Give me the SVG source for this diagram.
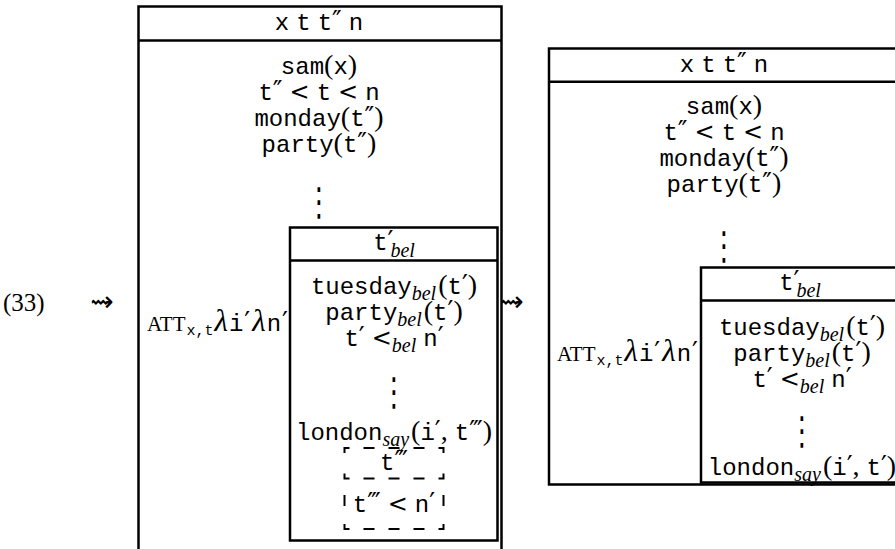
<svg xmlns="http://www.w3.org/2000/svg" width="895" height="549" viewBox="0 0 895 549">
<style>
text{fill:#000}
.r{font-family:"Liberation Serif",serif;font-size:28px}
.n{font-family:"Liberation Serif",serif;font-size:25px}
.t{font-family:"Liberation Mono",monospace;font-size:24px}
.s{font-family:"Liberation Serif",serif;font-style:italic;font-size:20px}
.p{font-family:"DejaVu Sans",sans-serif;font-size:26px}
.lt{font-family:"DejaVu Sans",sans-serif;font-size:24px}
.li{font-family:"Liberation Serif",serif;font-style:italic;font-size:31px}
.sc{font-family:"Liberation Serif",serif;font-size:21px}
.ts{font-family:"Liberation Mono",monospace;font-size:15px}
.dots{font-family:"DejaVu Sans",sans-serif;font-size:26px}
.arrow{font-family:"DejaVu Sans",sans-serif;font-size:28px}
.box{fill:none;stroke:#000;stroke-width:2.5}
.dash{fill:none;stroke:#000;stroke-width:2}
</style>
<rect width="895" height="549" fill="#fff"/>
<g id="example-number"><text class="n" x="3" y="311">(33)</text></g>
<g id="connectors">
<text class="arrow" x="102" y="311" text-anchor="middle">⇝</text>
<text class="arrow" x="512" y="311" text-anchor="middle">⇝</text>
</g>
<g id="drs-left">
<path class="box" d="M138.5,549 V6.5 H501.5 V549 M138.5,40.5 H501.5"/>
<text class="r" x="319" y="30" text-anchor="middle"><tspan class="t">x</tspan> <tspan class="t">t</tspan> <tspan class="t">t</tspan><tspan class="p">″</tspan> <tspan class="t">n</tspan></text>
<text class="r" x="319" y="74" text-anchor="middle"><tspan class="t">sam</tspan>(<tspan class="t">x</tspan>)</text>
<text class="r" x="319" y="100" text-anchor="middle"><tspan class="t">t</tspan><tspan class="p">″</tspan> <tspan class="lt">&lt;</tspan> <tspan class="t">t</tspan> <tspan class="lt">&lt;</tspan> <tspan class="t">n</tspan></text>
<text class="r" x="319" y="126" text-anchor="middle"><tspan class="t">monday</tspan>(<tspan class="t">t</tspan><tspan class="p">″</tspan>)</text>
<text class="r" x="319" y="152" text-anchor="middle"><tspan class="t">party</tspan>(<tspan class="t">t</tspan><tspan class="p">″</tspan>)</text>
<text class="dots" transform="translate(319,215) scale(1,1.5)" text-anchor="middle">⋮</text>
<text class="r" x="288" y="331" text-anchor="end"><tspan class="sc">ATT</tspan><tspan class="ts" dx="1" dy="4">x,t</tspan><tspan class="li" dx="1" dy="-4">λ</tspan><tspan class="t" dx="1">i</tspan><tspan class="p" dx="1">′</tspan><tspan class="li" dx="2">λ</tspan><tspan class="t" dx="1">n</tspan><tspan class="p" dx="1">′</tspan></text>
</g>
<g id="drs-left-inner">
<path class="box" d="M290,227.5 H497.5 V540.5 H290 Z M290,260.5 H497.5"/>
<text class="r" x="394" y="250" text-anchor="middle"><tspan class="t">t</tspan><tspan class="p">′</tspan><tspan class="s" dx="-3" dy="7">bel</tspan></text>
<text class="r" x="394" y="294" text-anchor="middle"><tspan class="t">tuesday</tspan><tspan class="s" dy="6">bel</tspan><tspan dx="2" dy="-6">(</tspan><tspan class="t">t</tspan><tspan class="p">′</tspan>)</text>
<text class="r" x="394" y="320" text-anchor="middle"><tspan class="t">party</tspan><tspan class="s" dy="6">bel</tspan><tspan dx="2" dy="-6">(</tspan><tspan class="t">t</tspan><tspan class="p">′</tspan>)</text>
<text class="r" x="394" y="346" text-anchor="middle"><tspan class="t">t</tspan><tspan class="p">′</tspan> <tspan class="lt">&lt;</tspan><tspan class="s" dy="6">bel</tspan> <tspan class="t" dy="-6">n</tspan><tspan class="p">′</tspan></text>
<text class="dots" transform="translate(394,405) scale(1,1.5)" text-anchor="middle">⋮</text>
<text class="r" x="394" y="440" text-anchor="middle"><tspan class="t">london</tspan><tspan class="s" dy="6">say</tspan><tspan dx="2" dy="-6">(</tspan><tspan class="t">i</tspan><tspan class="p">′</tspan>, <tspan class="t">t</tspan><tspan class="p">‴</tspan>)</text>
</g>
<g id="drs-dashed">
<path class="dash" d="M344.5,453 V448 H349.5 M363.5,448 h11 M388.5,448 h11 M413.5,448 h11 M438.5,448 H443.5 V453 M344.5,473.5 V478.5 H349.5 M363.5,478.5 h11 M388.5,478.5 h11 M413.5,478.5 h11 M438.5,478.5 H443.5 V473.5 M344.5,495 v11 M443.5,495 v11 M344.5,524 V529 H349.5 M363.5,529 h11 M388.5,529 h11 M413.5,529 h11 M438.5,529 H443.5 V524"/>
<text class="r" x="394" y="470" text-anchor="middle"><tspan class="t">t</tspan><tspan class="p">‴</tspan></text>
<text class="r" x="394" y="512" text-anchor="middle"><tspan class="t">t</tspan><tspan class="p">‴</tspan> <tspan class="lt">&lt;</tspan> <tspan class="t">n</tspan><tspan class="p">′</tspan></text>
</g>
<g id="drs-right">
<path class="box" d="M901,48.5 H549 V484.5 H901 M549,81.7 H901"/>
<text class="r" x="724" y="72" text-anchor="middle"><tspan class="t">x</tspan> <tspan class="t">t</tspan> <tspan class="t">t</tspan><tspan class="p">″</tspan> <tspan class="t">n</tspan></text>
<text class="r" x="724" y="114" text-anchor="middle"><tspan class="t">sam</tspan>(<tspan class="t">x</tspan>)</text>
<text class="r" x="724" y="140" text-anchor="middle"><tspan class="t">t</tspan><tspan class="p">″</tspan> <tspan class="lt">&lt;</tspan> <tspan class="t">t</tspan> <tspan class="lt">&lt;</tspan> <tspan class="t">n</tspan></text>
<text class="r" x="724" y="166" text-anchor="middle"><tspan class="t">monday</tspan>(<tspan class="t">t</tspan><tspan class="p">″</tspan>)</text>
<text class="r" x="724" y="192" text-anchor="middle"><tspan class="t">party</tspan>(<tspan class="t">t</tspan><tspan class="p">″</tspan>)</text>
<text class="dots" transform="translate(724,259) scale(1,1.5)" text-anchor="middle">⋮</text>
<text class="r" x="698" y="361" text-anchor="end"><tspan class="sc">ATT</tspan><tspan class="ts" dx="1" dy="4">x,t</tspan><tspan class="li" dx="1" dy="-4">λ</tspan><tspan class="t" dx="1">i</tspan><tspan class="p" dx="1">′</tspan><tspan class="li" dx="2">λ</tspan><tspan class="t" dx="1">n</tspan><tspan class="p" dx="1">′</tspan></text>
</g>
<g id="drs-right-inner">
<path class="box" d="M901,267.5 H701 V482.5 H901 M701,300.5 H901"/>
<text class="r" x="800" y="290" text-anchor="middle"><tspan class="t">t</tspan><tspan class="p">′</tspan><tspan class="s" dx="-3" dy="7">bel</tspan></text>
<text class="r" x="802" y="335" text-anchor="middle"><tspan class="t">tuesday</tspan><tspan class="s" dy="6">bel</tspan><tspan dx="2" dy="-6">(</tspan><tspan class="t">t</tspan><tspan class="p">′</tspan>)</text>
<text class="r" x="802" y="361" text-anchor="middle"><tspan class="t">party</tspan><tspan class="s" dy="6">bel</tspan><tspan dx="2" dy="-6">(</tspan><tspan class="t">t</tspan><tspan class="p">′</tspan>)</text>
<text class="r" x="802" y="387" text-anchor="middle"><tspan class="t">t</tspan><tspan class="p">′</tspan> <tspan class="lt">&lt;</tspan><tspan class="s" dy="6">bel</tspan> <tspan class="t" dy="-6">n</tspan><tspan class="p">′</tspan></text>
<text class="dots" transform="translate(802,444) scale(1,1.5)" text-anchor="middle">⋮</text>
<text class="r" x="802" y="475" text-anchor="middle"><tspan class="t">london</tspan><tspan class="s" dy="6">say</tspan><tspan dx="2" dy="-6">(</tspan><tspan class="t">i</tspan><tspan class="p">′</tspan>, <tspan class="t">t</tspan><tspan class="p">′</tspan>)</text>
</g>
</svg>
